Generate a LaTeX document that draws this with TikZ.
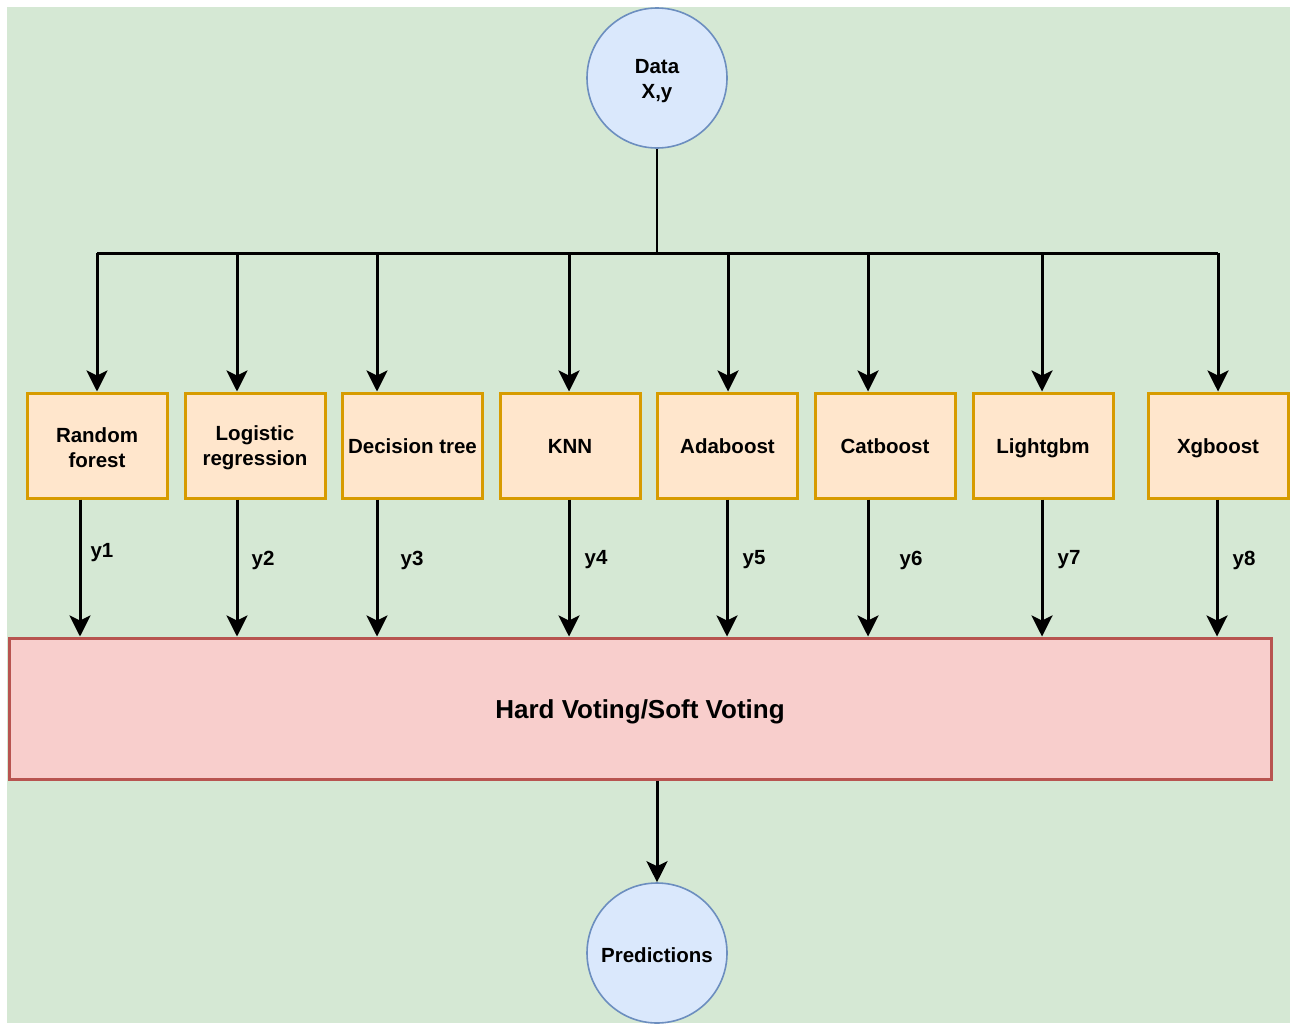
\documentclass[tikz,border=0pt]{standalone}
\usepackage{fontspec}
\setmainfont{Liberation Sans}
\usetikzlibrary{arrows.meta}
\definecolor{bggreen}{HTML}{D5E8D4}
\definecolor{circfill}{HTML}{DAE8FC}
\definecolor{circline}{HTML}{6C8EBF}
\definecolor{boxfill}{HTML}{FFE6CC}
\definecolor{boxline}{HTML}{D79B00}
\definecolor{votefill}{HTML}{F8CECC}
\definecolor{voteline}{HTML}{B85450}
\tikzset{
  every node/.style={font=\fontsize{20.5}{25}\selectfont\bfseries, text=black},
  txt/.style={align=center, inner sep=0pt},
  datacirc/.style={circle, draw=circline, fill=circfill, line width=1.6pt, minimum size=140pt, inner sep=0pt},
  modelbox/.style={rectangle, draw=boxline, fill=boxfill, line width=3pt, minimum width=140pt, minimum height=105pt, inner sep=0pt},
  votebox/.style={rectangle, draw=voteline, fill=votefill, line width=3pt, minimum width=1262pt, minimum height=141pt, inner sep=0pt},
  arr/.style={line width=3pt, -{Stealth[length=21pt,width=21pt,inset=5pt]}},
  bus/.style={line width=3pt},
  ylab/.style={inner sep=0pt, anchor=center}
}
\begin{document}
\begin{tikzpicture}[x=1pt,y=-1pt]
\useasboundingbox (0,0) rectangle (1295,1023);
\fill[bggreen] (7,7) rectangle (1290,1023);

% source and sink
\node[datacirc, label={[txt, yshift=-3pt]center:{Data\\X,y}}] (data) at (657,78) {};
\node[votebox, label={[txt, yshift=-3.5pt, font=\fontsize{26}{30}\selectfont\bfseries]center:Hard Voting/Soft Voting}] (vote) at (640,708.5) {};
\node[datacirc, label={[txt, yshift=-2pt]center:Predictions}] (pred) at (657,953) {};

% base learners
\node[modelbox, label={[txt, yshift=-2pt]center:{Random\\forest}}]      (rf)  at (97,445.5)    {};
\node[modelbox, label={[txt, yshift=-2pt]center:{Logistic\\regression}}] (lr)  at (255,445.5)   {};
\node[modelbox, label={[txt, yshift=-1pt]center:Decision tree}]         (dt)  at (412.5,445.5) {};
\node[modelbox, label={[txt, yshift=-1pt]center:KNN}]                   (knn) at (570,445.5)   {};
\node[modelbox, label={[txt, yshift=-1pt]center:Adaboost}]              (ada) at (727.5,445.5) {};
\node[modelbox, label={[txt, yshift=-1pt]center:Catboost}]              (cat) at (885,445.5)   {};
\node[modelbox, label={[txt, yshift=-2.5pt]center:Lightgbm}]            (lgb) at (1043,445.5)  {};
\node[modelbox, label={[txt, yshift=-2.5pt]center:Xgboost}]             (xgb) at (1218,445.5)  {};

% distribution bus
\coordinate (hub) at (657,253);
\coordinate (b1) at (97,253);
\coordinate (b2) at (237,253);
\coordinate (b3) at (377,253);
\coordinate (b4) at (569,253);
\coordinate (b5) at (728,253);
\coordinate (b6) at (868,253);
\coordinate (b7) at (1042,253);
\coordinate (b8) at (1218,253);
\draw[line width=1.5pt] (data.south) -- (hub);
\draw[bus] (b1) -- (b8);
\foreach \b/\m in {b1/rf,b2/lr,b3/dt,b4/knn,b5/ada,b6/cat,b7/lgb,b8/xgb}
  \draw[arr] (\b) -- (\b |- \m.north);

% predictions into the voting stage
\foreach \x/\m/\k/\lx/\ly in {80/rf/1/102/553,237/lr/2/263/560,377/dt/3/412/560,569/knn/4/596/560,727/ada/5/754/560,868/cat/6/911/560,1042/lgb/7/1069/560,1217/xgb/8/1244/560}{
  \coordinate (o\k) at (\x,0);
  \draw[arr] (o\k |- \m.south) -- (o\k |- vote.north);
  \node[ylab] (yl\k) at (\lx,\ly) {y\k};
}

% final output
\draw[arr] (vote.south -| pred) -- (pred.north);
\end{tikzpicture}
\end{document}
